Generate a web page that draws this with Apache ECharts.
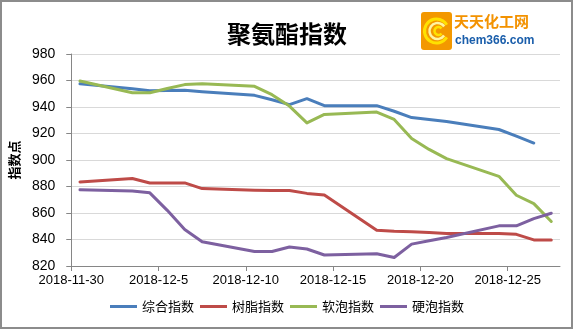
<!DOCTYPE html>
<html>
<head>
<meta charset="utf-8">
<script src="https://cdn.jsdelivr.net/npm/echarts@6/dist/echarts.min.js"></script>
<style>
  html, body { margin: 0; padding: 0; background: #fff; }
  #chart { width: 574px; height: 330px; }
</style>
</head>
<body>
<div id="chart"></div>
<script>
// Trading days in the period
const dates = [
  '2018-11-30', '2018-12-03', '2018-12-04', '2018-12-05', '2018-12-06', '2018-12-07',
  '2018-12-10', '2018-12-11', '2018-12-12', '2018-12-13', '2018-12-14',
  '2018-12-17', '2018-12-18', '2018-12-19', '2018-12-20', '2018-12-21',
  '2018-12-24', '2018-12-25', '2018-12-26', '2018-12-27'
];

// Index values (points)
const compositeIndex = [957.5, 953.8, 952.2, 952.5, 952.6, 951.5, 948.8, 945.5, 941.8, 946.3, 941.0,
                        941.0, 936.8, 932.0, 930.5, 929.0, 923.0, 918.0, 912.8, null];
const resinIndex     = [883.4, 886.0, 882.7, 882.7, 882.7, 878.4, 877.2, 877.0, 877.0, 874.8, 873.5,
                        847.0, 846.2, 845.9, 845.3, 844.6, 844.6, 843.9, 839.7, 839.7];
const flexFoamIndex  = [959.6, 950.8, 950.8, 954.0, 956.9, 957.6, 955.6, 949.3, 940.7, 928.0, 934.4,
                        936.2, 930.6, 916.3, 908.0, 901.0, 887.7, 873.4, 867.1, 853.6];
const rigidFoamIndex = [877.6, 876.6, 875.2, 862.0, 847.5, 838.3, 831.0, 830.9, 834.3, 832.8, 828.3,
                        829.3, 826.4, 836.5, 839.0, 841.5, 850.3, 850.3, 855.8, 859.8];

const seriesNames = ['综合指数', '树脂指数', '软泡指数', '硬泡指数'];
const seriesColors = ['#4A7EBB', '#BE4B48', '#98B954', '#7D60A0'];

// Date-axis tick labels (every 5 days)
const tickLabels = ['2018-11-30', '2018-12-5', '2018-12-10', '2018-12-15', '2018-12-20', '2018-12-25'];
const axisEndDate = '2018-12-28';

// Day offset from the first date
function dayNumber(s) {
  const p = s.split('-').map(Number);
  return Date.UTC(p[0], p[1] - 1, p[2]) / 86400000;
}
const day0 = dayNumber(dates[0]);
const dayOf = s => dayNumber(s) - day0;
const tickDays = tickLabels.map(dayOf);
const labelByDay = {};
tickLabels.forEach((t, i) => { labelByDay[tickDays[i]] = t; });

// each value sits in the middle of its day slot
function toPairs(values) {
  return dates.map((d, i) => [dayOf(d) + 0.5, values[i]]);
}

const allValues = [compositeIndex, resinIndex, flexFoamIndex, rigidFoamIndex];
const numFont = 'Liberation Sans, Arial, sans-serif';
const cjkFont = 'Noto Sans CJK SC, sans-serif';

const chart = echarts.init(document.getElementById('chart'), null, { renderer: 'canvas' });
chart.setOption({
  animation: false,
  backgroundColor: '#fff',
  title: {
    text: '聚氨酯指数',
    left: 'center',
    top: 17,
    textStyle: { fontFamily: cjkFont, fontSize: 24, fontWeight: 'bold', color: '#000' }
  },
  legend: {
    bottom: 12,
    left: 'center',
    itemWidth: 27,
    itemHeight: 10,
    itemGap: 6,
    icon: 'path://M0,4 L27,4 L27,7 L0,7 Z',
    textStyle: { fontFamily: cjkFont, fontSize: 13, color: '#000' },
    data: seriesNames
  },
  grid: { left: 65, right: 14, top: 54, bottom: 64, containLabel: false },
  xAxis: {
    type: 'value',
    min: 0,
    max: dayOf(axisEndDate),
    interval: 5,
    axisLine: { show: true, lineStyle: { color: '#868686', width: 1 } },
    axisTick: { show: true, length: 5, lineStyle: { color: '#868686' }, customValues: tickDays },
    splitLine: { show: false },
    axisLabel: {
      customValues: tickDays,
      formatter: v => labelByDay[v] || '',
      margin: 8,
      fontFamily: numFont,
      fontSize: 13,
      color: '#000'
    }
  },
  yAxis: {
    type: 'value',
    min: 820,
    max: 980,
    interval: 20,
    name: '指数点',
    nameLocation: 'middle',
    nameGap: 44,
    nameTextStyle: { fontFamily: cjkFont, fontSize: 13, fontWeight: 'bold', color: '#000' },
    axisLine: { show: true, lineStyle: { color: '#868686', width: 1 } },
    axisTick: { show: true, length: 5, lineStyle: { color: '#868686' } },
    splitLine: { show: true, lineStyle: { color: '#D9D9D9', width: 1 } },
    axisLabel: { margin: 16, fontFamily: numFont, fontSize: 14, color: '#000' }
  },
  series: seriesNames.map((name, i) => ({
    name: name,
    type: 'line',
    data: toPairs(allValues[i]),
    symbol: 'none',
    showSymbol: false,
    connectNulls: false,
    color: seriesColors[i],
    lineStyle: { width: 3, color: seriesColors[i], cap: 'round', join: 'round' },
    z: 2 + i
  })),
  graphic: [
    // outer frame
    { type: 'rect', silent: true, z: 100,
      shape: { x: 1, y: 1, width: 571, height: 327 },
      style: { fill: 'none', stroke: '#8C8C8C', lineWidth: 2 } },
    // site logo
    { type: 'group', left: 421, top: 12, z: 100, silent: true, children: [
      { type: 'rect', shape: { x: 0, y: 0, width: 31, height: 38, r: 3 }, style: { fill: '#F39800' } },
      { type: 'arc', shape: { cx: 15.5, cy: 19, r: 12, startAngle: 0.55, endAngle: Math.PI * 2 - 0.55 },
        style: { stroke: '#FFE100', lineWidth: 3, fill: 'none' } },
      { type: 'arc', shape: { cx: 16.5, cy: 19, r: 8, startAngle: 0.6, endAngle: Math.PI * 2 - 0.6 },
        style: { stroke: '#FFF4A0', lineWidth: 2.5, fill: 'none' } },
      { type: 'arc', shape: { cx: 17.5, cy: 19, r: 4, startAngle: 0.7, endAngle: Math.PI * 2 - 0.7 },
        style: { stroke: '#FFE100', lineWidth: 2.5, fill: 'none' } }
    ] },
    { type: 'text', left: 454, top: 14, z: 100, silent: true,
      style: { text: '天天化工网', font: 'bold 15px ' + cjkFont, fill: '#F39200' } },
    { type: 'text', left: 455, top: 35, z: 100, silent: true,
      style: { text: 'chem366.com', font: 'bold 12px ' + numFont, fill: '#1A5EAB' } }
  ]
});
</script>
</body>
</html>
